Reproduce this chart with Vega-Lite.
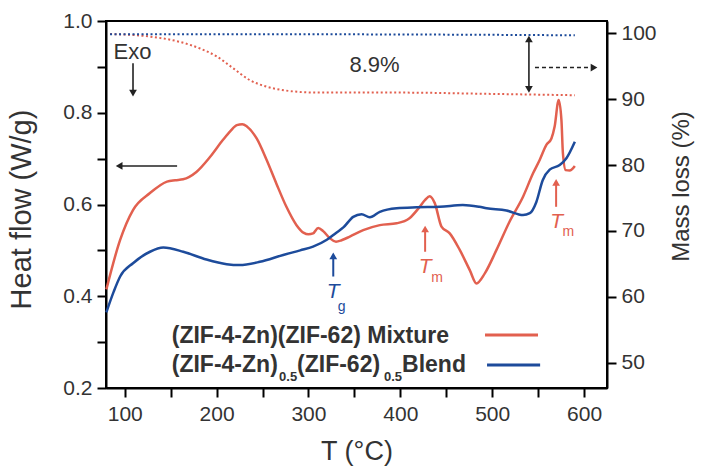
{
  "$schema": "https://vega.github.io/schema/vega-lite/v6.json",
  "width": 501,
  "height": 367,
  "autosize": {"type": "none"},
  "padding": {"left": 106, "top": 21, "right": 97, "bottom": 81},
  "background": "white",
  "config": {
    "font": "Liberation Sans",
    "view": {"stroke": "#000", "strokeWidth": 2},
    "axis": {
      "domainColor": "#000", "domainWidth": 2, "tickColor": "#000", "tickWidth": 2, "tickSize": 9,
      "labelFontSize": 21, "labelColor": "#333", "titleFontSize": 27, "titleFontWeight": "normal",
      "titleColor": "#333", "grid": false, "labelFont": "Liberation Sans", "titleFont": "Liberation Sans"
    },
    "text": {"font": "Liberation Sans"}
  },
  "datasets": {
    "heat": [
      {"T": 80, "hf": 0.415, "s": "Mixture"}, {"T": 95, "hf": 0.523, "s": "Mixture"}, {"T": 109, "hf": 0.588, "s": "Mixture"},
      {"T": 127.5, "hf": 0.625, "s": "Mixture"}, {"T": 146, "hf": 0.65, "s": "Mixture"}, {"T": 155, "hf": 0.653, "s": "Mixture"},
      {"T": 163.5, "hf": 0.655, "s": "Mixture"}, {"T": 178, "hf": 0.671, "s": "Mixture"}, {"T": 193, "hf": 0.704, "s": "Mixture"},
      {"T": 207, "hf": 0.741, "s": "Mixture"}, {"T": 215, "hf": 0.76, "s": "Mixture"}, {"T": 222, "hf": 0.773, "s": "Mixture"},
      {"T": 228, "hf": 0.775, "s": "Mixture"}, {"T": 233, "hf": 0.77, "s": "Mixture"}, {"T": 243.6, "hf": 0.744, "s": "Mixture"},
      {"T": 254.5, "hf": 0.697, "s": "Mixture"}, {"T": 265, "hf": 0.646, "s": "Mixture"}, {"T": 276, "hf": 0.595, "s": "Mixture"},
      {"T": 287, "hf": 0.555, "s": "Mixture"}, {"T": 295, "hf": 0.538, "s": "Mixture"}, {"T": 300, "hf": 0.535, "s": "Mixture"},
      {"T": 305, "hf": 0.537, "s": "Mixture"}, {"T": 310.6, "hf": 0.549, "s": "Mixture"}, {"T": 316, "hf": 0.542, "s": "Mixture"},
      {"T": 323, "hf": 0.527, "s": "Mixture"}, {"T": 330, "hf": 0.519, "s": "Mixture"}, {"T": 336, "hf": 0.522, "s": "Mixture"},
      {"T": 345, "hf": 0.53, "s": "Mixture"}, {"T": 359.6, "hf": 0.544, "s": "Mixture"}, {"T": 377.7, "hf": 0.555, "s": "Mixture"},
      {"T": 396, "hf": 0.559, "s": "Mixture"}, {"T": 410, "hf": 0.57, "s": "Mixture"}, {"T": 420, "hf": 0.592, "s": "Mixture"},
      {"T": 427, "hf": 0.61, "s": "Mixture"}, {"T": 432, "hf": 0.618, "s": "Mixture"}, {"T": 437.5, "hf": 0.603, "s": "Mixture"},
      {"T": 444.8, "hf": 0.552, "s": "Mixture"}, {"T": 453.8, "hf": 0.537, "s": "Mixture"}, {"T": 464.7, "hf": 0.501, "s": "Mixture"},
      {"T": 475.6, "hf": 0.457, "s": "Mixture"}, {"T": 482.9, "hf": 0.428, "s": "Mixture"}, {"T": 492, "hf": 0.45, "s": "Mixture"},
      {"T": 504.7, "hf": 0.501, "s": "Mixture"}, {"T": 519, "hf": 0.563, "s": "Mixture"}, {"T": 533.6, "hf": 0.617, "s": "Mixture"},
      {"T": 544.5, "hf": 0.668, "s": "Mixture"}, {"T": 551.7, "hf": 0.697, "s": "Mixture"}, {"T": 559, "hf": 0.73, "s": "Mixture"},
      {"T": 564.5, "hf": 0.744, "s": "Mixture"}, {"T": 568, "hf": 0.77, "s": "Mixture"}, {"T": 572.4, "hf": 0.828, "s": "Mixture"},
      {"T": 575.4, "hf": 0.784, "s": "Mixture"}, {"T": 577, "hf": 0.712, "s": "Mixture"}, {"T": 580, "hf": 0.675, "s": "Mixture"},
      {"T": 584.4, "hf": 0.674, "s": "Mixture"}, {"T": 590, "hf": 0.684, "s": "Mixture"},
      {"T": 80, "hf": 0.365, "s": "Blend"}, {"T": 88, "hf": 0.41, "s": "Blend"}, {"T": 95, "hf": 0.443, "s": "Blend"},
      {"T": 109, "hf": 0.472, "s": "Blend"}, {"T": 127.5, "hf": 0.497, "s": "Blend"}, {"T": 142, "hf": 0.506, "s": "Blend"},
      {"T": 163.7, "hf": 0.497, "s": "Blend"}, {"T": 189, "hf": 0.48, "s": "Blend"}, {"T": 211, "hf": 0.47, "s": "Blend"},
      {"T": 225, "hf": 0.468, "s": "Blend"}, {"T": 247, "hf": 0.475, "s": "Blend"}, {"T": 272.5, "hf": 0.49, "s": "Blend"},
      {"T": 291, "hf": 0.5, "s": "Blend"}, {"T": 305, "hf": 0.508, "s": "Blend"}, {"T": 320, "hf": 0.523, "s": "Blend"},
      {"T": 330, "hf": 0.538, "s": "Blend"}, {"T": 338, "hf": 0.55, "s": "Blend"}, {"T": 348.7, "hf": 0.573, "s": "Blend"},
      {"T": 357.8, "hf": 0.579, "s": "Blend"}, {"T": 366.8, "hf": 0.572, "s": "Blend"}, {"T": 377.7, "hf": 0.584, "s": "Blend"},
      {"T": 396, "hf": 0.592, "s": "Blend"}, {"T": 417.6, "hf": 0.594, "s": "Blend"}, {"T": 443, "hf": 0.595, "s": "Blend"},
      {"T": 468, "hf": 0.599, "s": "Blend"}, {"T": 486, "hf": 0.595, "s": "Blend"}, {"T": 494, "hf": 0.592, "s": "Blend"},
      {"T": 515.5, "hf": 0.587, "s": "Blend"}, {"T": 533.6, "hf": 0.577, "s": "Blend"}, {"T": 541, "hf": 0.581, "s": "Blend"},
      {"T": 548, "hf": 0.605, "s": "Blend"}, {"T": 555, "hf": 0.653, "s": "Blend"}, {"T": 562.6, "hf": 0.676, "s": "Blend"},
      {"T": 573.5, "hf": 0.686, "s": "Blend"}, {"T": 580.8, "hf": 0.701, "s": "Blend"}, {"T": 590, "hf": 0.737, "s": "Blend"}
    ],
    "mass": [
      {"T": 84, "m": 99.9, "s": "Mixture"}, {"T": 127.5, "m": 99.5, "s": "Mixture"}, {"T": 160, "m": 98.7, "s": "Mixture"},
      {"T": 182, "m": 97.7, "s": "Mixture"}, {"T": 200, "m": 96.5, "s": "Mixture"}, {"T": 218, "m": 94.7, "s": "Mixture"},
      {"T": 236, "m": 92.9, "s": "Mixture"}, {"T": 254.5, "m": 91.9, "s": "Mixture"}, {"T": 276, "m": 91.3, "s": "Mixture"},
      {"T": 309, "m": 91.0, "s": "Mixture"}, {"T": 400, "m": 91.0, "s": "Mixture"}, {"T": 500, "m": 90.8, "s": "Mixture"},
      {"T": 590, "m": 90.6, "s": "Mixture"},
      {"T": 84, "m": 99.85, "s": "Blend"}, {"T": 300, "m": 99.85, "s": "Blend"}, {"T": 450, "m": 99.8, "s": "Blend"},
      {"T": 590, "m": 99.7, "s": "Blend"}
    ],
    "blackRules": [
      {"T": 109, "T2": 109, "hf": 0.908, "hf2": 0.846},
      {"T": 157, "T2": 95, "hf": 0.684, "hf2": 0.684}
    ],
    "blackHeads": [
      {"T": 109, "hf": 0.843, "dir": "down"},
      {"T": 93.9, "hf": 0.684, "dir": "left"}
    ],
    "colorRules": [
      {"T": 327, "hf": 0.443, "hf2": 0.49, "s": "Blend"},
      {"T": 427, "hf": 0.497, "hf2": 0.548, "s": "Mixture"},
      {"T": 569.6, "hf": 0.595, "hf2": 0.65, "s": "Mixture"}
    ],
    "colorHeads": [
      {"T": 327, "hf": 0.488, "s": "Blend", "dir": "up"},
      {"T": 427, "hf": 0.5466, "s": "Mixture", "dir": "up"},
      {"T": 569.6, "hf": 0.6484, "s": "Mixture", "dir": "up"}
    ],
    "plainText": [
      {"T": 108.5, "hf": 0.932, "text": "Exo"},
      {"T": 372, "hf": 0.904, "text": "8.9%"}
    ],
    "italicT": [
      {"T": 326.8, "hf": 0.41, "s": "Blend", "text": "T"},
      {"T": 427, "hf": 0.464, "s": "Mixture", "text": "T"},
      {"T": 570.3, "hf": 0.5625, "s": "Mixture", "text": "T"}
    ],
    "subs": [
      {"T": 336, "hf": 0.377, "s": "Blend", "text": "g"},
      {"T": 440, "hf": 0.44, "s": "Mixture", "text": "m"},
      {"T": 583, "hf": 0.541, "s": "Mixture", "text": "m"}
    ],
    "legendText": [
      {"T": 151.2, "hf": 0.313, "text": "(ZIF-4-Zn)(ZIF-62) Mixture"},
      {"T": 151.2, "hf": 0.25, "text": "(ZIF-4-Zn)"},
      {"T": 287.6, "hf": 0.25, "text": "(ZIF-62)"},
      {"T": 401.9, "hf": 0.25, "text": "Blend"}
    ],
    "legendSubs": [
      {"T": 268, "hf": 0.224, "text": "0.5"},
      {"T": 382.2, "hf": 0.224, "text": "0.5"}
    ],
    "legendRules": [
      {"T": 492.2, "T2": 549.9, "hf": 0.3155, "s": "Mixture"},
      {"T": 494.4, "T2": 552.2, "hf": 0.25, "s": "Blend"}
    ],
    "massRules": [
      {"T": 540, "T2": 540, "m": 99.2, "m2": 91.5}
    ],
    "massDashed": [
      {"T": 546.6, "T2": 609, "m": 94.8, "m2": 94.8}
    ],
    "massHeads": [
      {"T": 540, "m": 99.14, "dir": "up"},
      {"T": 540, "m": 91.5, "dir": "down"},
      {"T": 610.9, "m": 94.8, "dir": "right"}
    ]
  },
  "layer": [
    {
      "layer": [
        {
          "data": {"name": "heat"},
          "mark": {"type": "line", "strokeWidth": 2.5, "interpolate": "monotone"},
          "encoding": {
            "x": {
              "field": "T", "type": "quantitative",
              "scale": {"domain": [79.6, 625], "nice": false, "zero": false},
              "axis": {
                "title": "T (°C)", "values": [100, 150, 200, 250, 300, 350, 400, 450, 500, 550, 600],
                "format": "d", "labelExpr": "datum.value % 100 === 0 ? datum.label : ''",
                "labelPadding": 6, "titlePadding": 14
              }
            },
            "y": {
              "field": "hf", "type": "quantitative",
              "scale": {"domain": [0.2, 1.0], "nice": false, "zero": false},
              "axis": {
                "title": "Heat flow (W/g)", "values": [0.2, 0.3, 0.4, 0.5, 0.6, 0.7, 0.8, 0.9, 1.0],
                "format": ".1f", "labelExpr": "round(datum.value * 10) % 2 === 0 ? datum.label : ''",
                "labelPadding": 5, "titlePadding": 26, "titleFontSize": 29, "titleY": 188
              }
            },
            "color": {
              "field": "s", "type": "nominal",
              "scale": {"domain": ["Mixture", "Blend"], "range": ["#e2604f", "#1d4b9b"]},
              "legend": null
            }
          }
        },
        {
          "data": {"name": "blackRules"},
          "mark": {"type": "rule", "strokeWidth": 1.6, "color": "#222"},
          "encoding": {
            "x": {"field": "T", "type": "quantitative"},
            "x2": {"field": "T2"},
            "y": {"field": "hf", "type": "quantitative"},
            "y2": {"field": "hf2"}
          }
        },
        {
          "data": {"name": "blackHeads"},
          "mark": {"type": "point", "filled": true, "size": 60, "color": "#222", "opacity": 1},
          "encoding": {
            "x": {"field": "T", "type": "quantitative"},
            "y": {"field": "hf", "type": "quantitative"},
            "shape": {
              "field": "dir", "type": "nominal",
              "scale": {"domain": ["up", "down", "left", "right"], "range": ["triangle-up", "triangle-down", "triangle-left", "triangle-right"]},
              "legend": null
            }
          }
        },
        {
          "data": {"name": "colorRules"},
          "mark": {"type": "rule", "strokeWidth": 2},
          "encoding": {
            "x": {"field": "T", "type": "quantitative"},
            "y": {"field": "hf", "type": "quantitative"},
            "y2": {"field": "hf2"},
            "color": {"field": "s", "type": "nominal", "legend": null}
          }
        },
        {
          "data": {"name": "colorHeads"},
          "mark": {"type": "point", "filled": true, "size": 60, "opacity": 1},
          "encoding": {
            "x": {"field": "T", "type": "quantitative"},
            "y": {"field": "hf", "type": "quantitative"},
            "shape": {"field": "dir", "type": "nominal", "legend": null},
            "color": {"field": "s", "type": "nominal", "legend": null}
          }
        },
        {
          "data": {"name": "plainText"},
          "mark": {"type": "text", "fontSize": 22, "color": "#333", "align": "center", "baseline": "middle"},
          "encoding": {
            "x": {"field": "T", "type": "quantitative"},
            "y": {"field": "hf", "type": "quantitative"},
            "text": {"field": "text"}
          }
        },
        {
          "data": {"name": "italicT"},
          "mark": {"type": "text", "fontSize": 21, "fontStyle": "italic", "align": "center", "baseline": "middle"},
          "encoding": {
            "x": {"field": "T", "type": "quantitative"},
            "y": {"field": "hf", "type": "quantitative"},
            "text": {"field": "text"},
            "color": {"field": "s", "type": "nominal", "legend": null}
          }
        },
        {
          "data": {"name": "subs"},
          "mark": {"type": "text", "fontSize": 14, "align": "center", "baseline": "middle"},
          "encoding": {
            "x": {"field": "T", "type": "quantitative"},
            "y": {"field": "hf", "type": "quantitative"},
            "text": {"field": "text"},
            "color": {"field": "s", "type": "nominal", "legend": null}
          }
        },
        {
          "data": {"name": "legendText"},
          "mark": {"type": "text", "fontSize": 23, "fontWeight": "bold", "color": "#333", "align": "left", "baseline": "middle"},
          "encoding": {
            "x": {"field": "T", "type": "quantitative"},
            "y": {"field": "hf", "type": "quantitative"},
            "text": {"field": "text"}
          }
        },
        {
          "data": {"name": "legendSubs"},
          "mark": {"type": "text", "fontSize": 13, "fontWeight": "bold", "color": "#333", "align": "left", "baseline": "middle"},
          "encoding": {
            "x": {"field": "T", "type": "quantitative"},
            "y": {"field": "hf", "type": "quantitative"},
            "text": {"field": "text"}
          }
        },
        {
          "data": {"name": "legendRules"},
          "mark": {"type": "rule", "strokeWidth": 3},
          "encoding": {
            "x": {"field": "T", "type": "quantitative"},
            "x2": {"field": "T2"},
            "y": {"field": "hf", "type": "quantitative"},
            "color": {"field": "s", "type": "nominal", "legend": null}
          }
        }
      ]
    },
    {
      "layer": [
        {
          "data": {"name": "mass"},
          "mark": {"type": "line", "strokeWidth": 2, "strokeDash": [2, 2.5], "interpolate": "monotone"},
          "encoding": {
            "x": {"field": "T", "type": "quantitative"},
            "y": {
              "field": "m", "type": "quantitative",
              "scale": {"domain": [46.16, 101.87], "nice": false, "zero": false},
              "axis": {
                "orient": "right", "title": "Mass loss (%)", "titleAngle": 270, "titleBaseline": "top",
                "titleFontSize": 24, "titleY": 165,
                "values": [50, 55, 60, 65, 70, 75, 80, 85, 90, 95, 100],
                "format": "d", "labelExpr": "datum.value % 10 === 0 ? datum.label : ''",
                "labelPadding": 5, "titlePadding": 13
              }
            },
            "color": {"field": "s", "type": "nominal", "legend": null}
          }
        },
        {
          "data": {"name": "massRules"},
          "mark": {"type": "rule", "strokeWidth": 1.6, "color": "#222"},
          "encoding": {
            "x": {"field": "T", "type": "quantitative"},
            "y": {"field": "m", "type": "quantitative"},
            "y2": {"field": "m2"}
          }
        },
        {
          "data": {"name": "massDashed"},
          "mark": {"type": "rule", "strokeWidth": 1.6, "color": "#222", "strokeDash": [4, 3]},
          "encoding": {
            "x": {"field": "T", "type": "quantitative"},
            "x2": {"field": "T2"},
            "y": {"field": "m", "type": "quantitative"}
          }
        },
        {
          "data": {"name": "massHeads"},
          "mark": {"type": "point", "filled": true, "size": 60, "color": "#222", "opacity": 1},
          "encoding": {
            "x": {"field": "T", "type": "quantitative"},
            "y": {"field": "m", "type": "quantitative"},
            "shape": {"field": "dir", "type": "nominal", "legend": null}
          }
        }
      ]
    }
  ],
  "resolve": {"scale": {"y": "independent"}}
}
